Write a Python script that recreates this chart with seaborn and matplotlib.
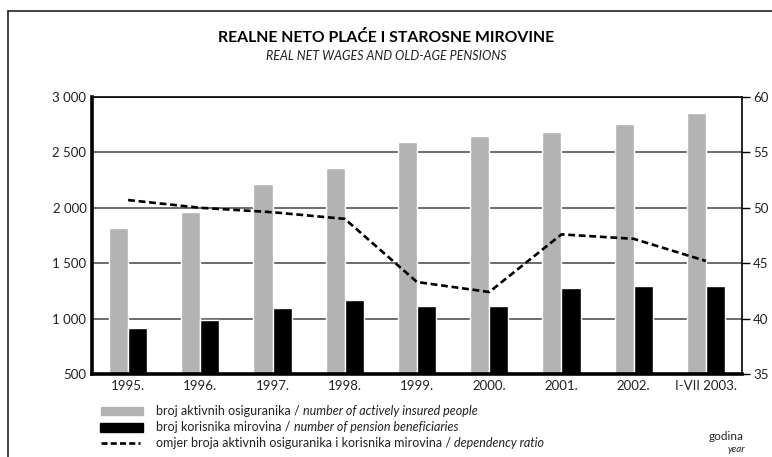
import matplotlib
matplotlib.use('Agg')
import matplotlib.pyplot as plt
import matplotlib.ticker as mticker
from matplotlib.patches import Rectangle
from matplotlib.lines import Line2D
import numpy as np
import pandas as pd
import seaborn as sns

sns.set_theme(style="white")
plt.rcParams['font.family'] = ['Lato', 'DejaVu Sans']

# data (thousands)
years = ['1995.', '1996.', '1997.', '1998.', '1999.', '2000.', '2001.', '2002.', 'I-VII 2003.']
insured = [1822, 1966, 2218, 2362, 2590, 2644, 2680, 2752, 2852]
pensioners = [918, 984, 1100, 1165, 1118, 1118, 1280, 1298, 1298]
ratio = [50.7, 50.0, 49.6, 49.0, 43.3, 42.4, 47.6, 47.2, 45.2]

lbl_ins = 'broj aktivnih osiguranika'
lbl_pen = 'broj korisnika mirovina'

df = pd.DataFrame({'year': years * 2,
                   'value': insured + pensioners,
                   'series': [lbl_ins] * len(years) + [lbl_pen] * len(years)})

fig = plt.figure(figsize=(7.72, 4.57), dpi=100)
ax = fig.add_axes([92 / 772, 1 - 374 / 457, 650 / 772, 277 / 457])

ax.set_axisbelow(True)
ax.yaxis.grid(True, color='#444444', linewidth=1.1)
sns.barplot(data=df, x='year', y='value', hue='series', order=years,
            palette=['#b3b3b3', '#000000'], width=0.53, saturation=1,
            legend=False, ax=ax)
ax.set_ylim(500, 3000)
ax.set_yticks(range(500, 3001, 500))
ax.yaxis.set_major_formatter(mticker.FuncFormatter(lambda v, p: f'{int(v):,}'.replace(',', ' ')))
ax.set_xlim(-0.5, len(years) - 0.5)
ax.set_xlabel('')
ax.set_ylabel('')
ax.tick_params(axis='both', length=0, labelsize=9.5, colors='#222222', pad=4)

for s in ['left', 'bottom']:
    ax.spines[s].set_linewidth(2.6)
    ax.spines[s].set_color('black')
for s in ['top', 'right']:
    ax.spines[s].set_linewidth(1.2)
    ax.spines[s].set_color('black')

ax2 = ax.twinx()
ax2.plot(range(len(years)), ratio, color='black', linewidth=1.9, dashes=(2.6, 1.4))
ax2.set_ylim(35, 60)
ax2.set_yticks(range(35, 61, 5))
ax2.tick_params(axis='y', length=6, width=1, labelsize=9.5, colors='#222222', pad=2)
ax2.tick_params(axis='y', color='black')
for s in ax2.spines.values():
    s.set_visible(False)

# titles
fig.text(0.5, 1 - 38 / 457, 'REALNE NETO PLAĆE I STAROSNE MIROVINE', ha='center', va='center',
         fontsize=11.3, fontweight='bold', color='black')
fig.text(0.5, 1 - 56 / 457, 'REAL NET WAGES AND OLD-AGE PENSIONS', ha='center', va='center',
         fontsize=9, fontstyle='italic', color='#222222')

# legend drawn by hand below the axes
fig.patches.append(Rectangle((101 / 772, 1 - 415 / 457), 42 / 772, 8 / 457,
                             transform=fig.transFigure, color='#b3b3b3'))
fig.patches.append(Rectangle((100 / 772, 1 - 432 / 457), 43 / 772, 9 / 457,
                             transform=fig.transFigure, color='black'))
fig.lines.append(Line2D([101 / 772, 140 / 772], [1 - 443 / 457, 1 - 443 / 457],
                        transform=fig.transFigure, color='black', linewidth=1.9, dashes=(2.3, 1.2)))
legend_rows = [(411, lbl_ins + ' / ', 'number of actively insured people'),
               (427, lbl_pen + ' / ', 'number of pension beneficiaries'),
               (443, 'omjer broja aktivnih osiguranika i korisnika mirovina / ', 'dependency ratio')]
for y, plain, ital in legend_rows:
    t = fig.text(156 / 772, 1 - y / 457, plain, ha='left', va='center', fontsize=9, color='#222222')
    fig.canvas.draw()
    bb = t.get_window_extent()
    fig.text(bb.x1 / 772, 1 - y / 457, ital, ha='left', va='center', fontsize=9,
             fontstyle='italic', color='#222222')

fig.text(744 / 772, 1 - 437 / 457, 'godina', ha='right', va='center', fontsize=8.5, color='#222222')
fig.text(745 / 772, 1 - 449 / 457, 'year', ha='right', va='center', fontsize=7,
         fontstyle='italic', color='#222222')

# frame lines on left and top of the page
fig.lines.append(Line2D([8 / 772, 8 / 772], [0, 1 - 11 / 457], transform=fig.transFigure,
                        color='#222222', linewidth=1.2))
fig.lines.append(Line2D([8 / 772, 1], [1 - 11 / 457, 1 - 11 / 457], transform=fig.transFigure,
                        color='#222222', linewidth=1.2))

fig.savefig('out.png', dpi=100)
